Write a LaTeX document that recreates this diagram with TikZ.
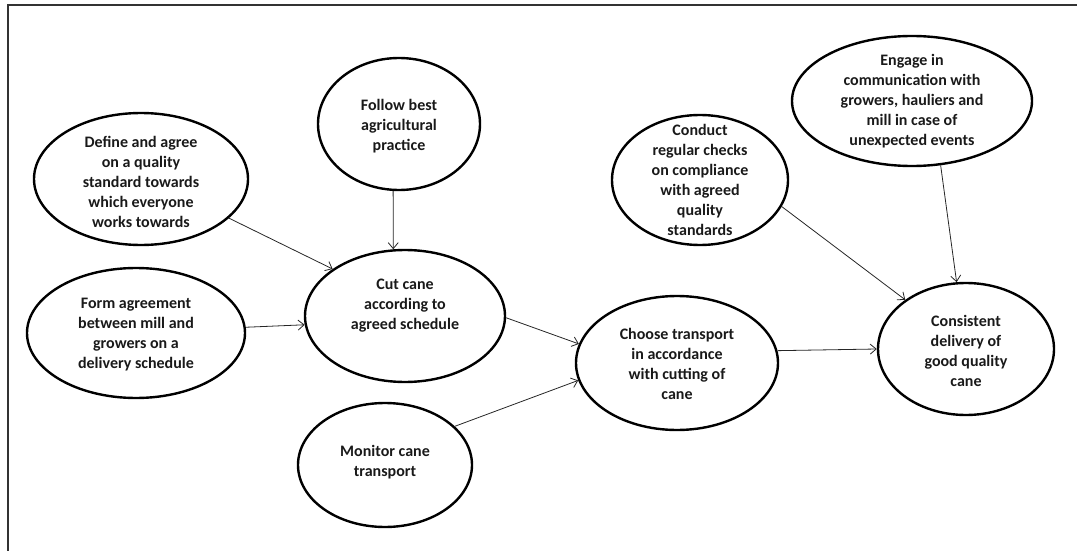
\documentclass[tikz,border=0pt]{standalone}
\usepackage{fontspec}
\setmainfont{Carlito}
\usetikzlibrary{shapes.geometric,arrows.meta}
\tikzset{
  stage/.style={ellipse,draw=black,line width=2.4pt,inner sep=0pt},
  txt/.style={font=\bfseries\fontsize{16}{20}\selectfont,align=center,inner sep=0pt,text=black!90},
  link/.style={line width=0.8pt,draw=black!85,-{Straight Barb[length=6pt,width=10pt,line width=0.8pt]}},
  frame/.style={line width=1.2pt,draw=black!80}
}
\begin{document}
\begin{tikzpicture}[x=1pt,y=-1pt]
\useasboundingbox (0,0) rectangle (1077,551);
\draw[frame] (8,551) -- (8,5) -- (1077,5);

% activity ellipses
\node[stage,minimum width=214pt,minimum height=132pt,
  label={[txt,yshift=-3pt]center:Define and agree\\on a quality\\standard towards\\which everyone\\works towards}] (define) at (141,179) {};
\node[stage,minimum width=162pt,minimum height=132pt,
  label={[txt,yshift=-2pt]center:Follow best\\agricultural\\practice}] (follow) at (399,124) {};
\node[stage,minimum width=218pt,minimum height=130pt,
  label={[txt,yshift=-2pt]center:Form agreement\\between mill and\\growers on a\\delivery schedule}] (form) at (136,333) {};
\node[stage,minimum width=200pt,minimum height=132pt,
  label={[txt,yshift=10pt]center:Cut cane\\according to\\agreed schedule}] (cut) at (405,316) {};
\node[stage,minimum width=174pt,minimum height=124pt,
  label={[txt,yshift=3pt]center:Monitor cane\\transport}] (monitor) at (385,465) {};
\node[stage,minimum width=202pt,minimum height=134pt,
  label={[txt,yshift=-1pt]center:Choose transport\\in accordance\\with cutting of\\cane}] (choose) at (677,363) {};
\node[stage,minimum width=176pt,minimum height=130pt,
  label={[txt]center:Conduct\\regular checks\\on compliance\\with agreed\\quality\\standards}] (conduct) at (700,180) {};
\node[stage,minimum width=240pt,minimum height=130pt,
  label={[txt]center:Engage in\\communication with\\growers, hauliers and\\mill in case of\\unexpected events}] (engage) at (912,101) {};
\node[stage,minimum width=176pt,minimum height=132pt,
  label={[txt,yshift=-2pt]center:Consistent\\delivery of\\good quality\\cane}] (deliver) at (966,349) {};

% dependencies
\draw[link] (define.-24.7) -- (cut.147.4);
\draw[link] (follow.-95) -- (cut.100);
\draw[link] (form.3.7) -- (cut.185.8);
\draw[link] (cut.-1.5) -- (choose.169.8);
\draw[link] (monitor.29.7) -- (choose.190.8);
\draw[link] (choose.7.5) -- (deliver.180.6);
\draw[link] (conduct.-18.6) -- (deliver.141.5);
\draw[link] (engage.-66.3) -- (deliver.98.5);
\end{tikzpicture}
\end{document}
